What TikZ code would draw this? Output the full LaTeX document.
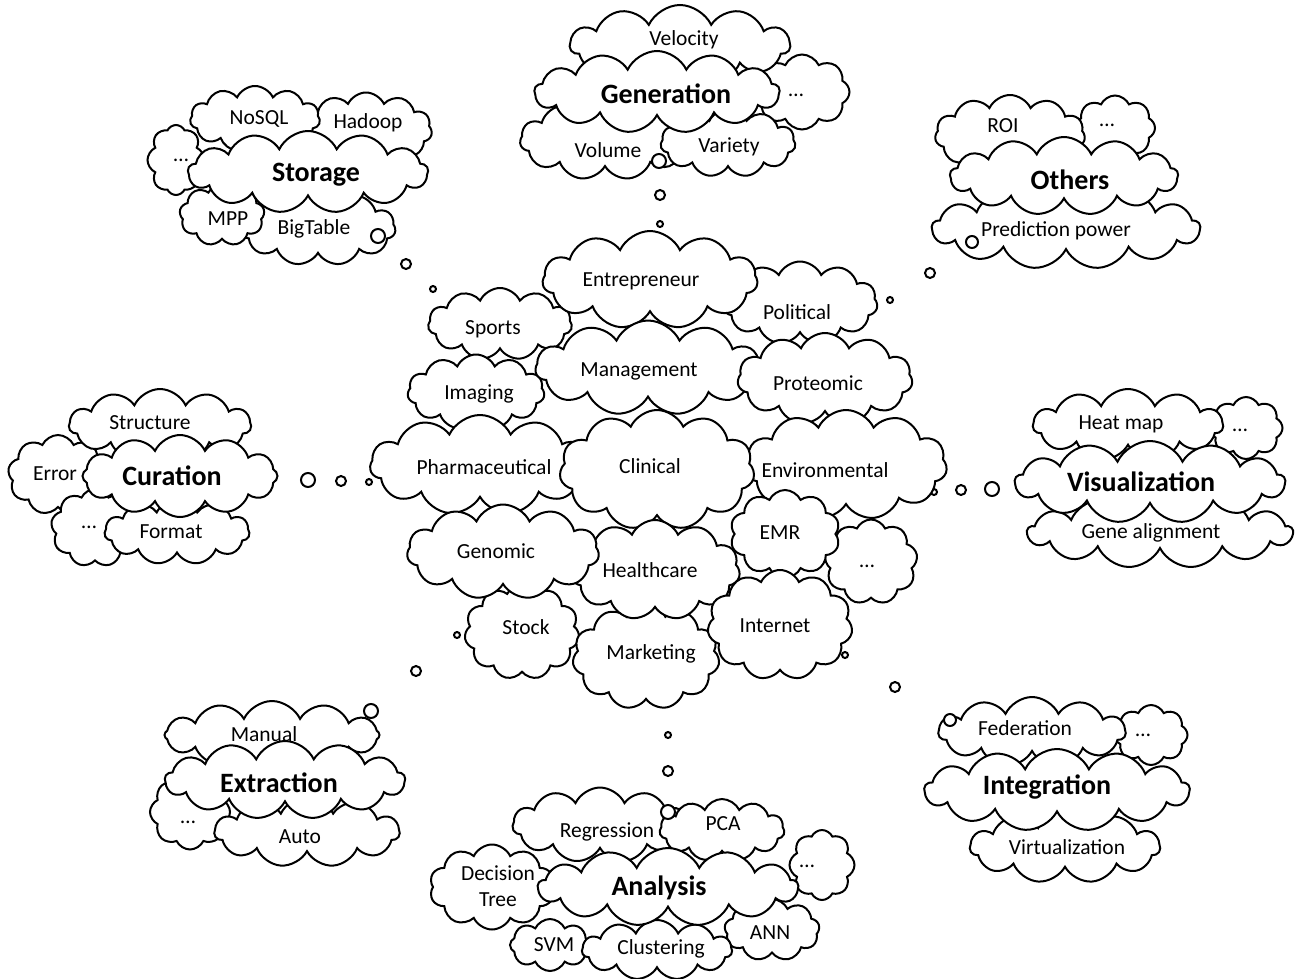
\documentclass[tikz,border=0pt]{standalone}
\usepackage{fontspec}
\setmainfont{Carlito}
\usetikzlibrary{shapes.symbols}
\tikzset{
 cl/.style={cloud, cloud puffs=11, cloud puff arc=130, cloud ignores aspect, draw=black, line width=2pt, fill=white, inner sep=0pt},
 lb/.style={font=\fontsize{21.5}{26}\selectfont, inner sep=0pt, align=center},
 bl/.style={font=\fontsize{28}{32}\selectfont\bfseries, inner sep=0pt},
 bub/.style={circle, draw=black, line width=2pt, fill=white, inner sep=0pt},
}
\newcommand\cld[9]{%
 \node[cl, #2, minimum width=#5pt, minimum height=#6pt] (#1) at (#3,#4) {};
 \node[lb] (#1t) at (#7,#8) {#9};}
\newcommand\bcld[9]{%
 \node[cl, #2, minimum width=#5pt, minimum height=#6pt] (#1) at (#3,#4) {};
 \node[bl] (#1t) at (#7,#8) {#9};}
\begin{document}
\begin{tikzpicture}[x=1pt,y=-1pt]
\useasboundingbox (0,0) rectangle (1295,978);
% Generation
\cld{gdots}{cloud puffs=8}{802}{92}{95}{75}{796}{95}{…}
\cld{vel}{}{680}{45}{220}{80}{684}{40}{Velocity}
\cld{vol}{}{605}{140}{170}{80}{608}{150}{Volume}
\cld{var}{}{728}{143}{135}{68}{729}{147}{Variety}
\bcld{gen}{cloud puffs=13}{657}{92}{245}{82}{666}{94}{Generation}
\node[bub, minimum size=14pt] (g1) at (659,161) {};
\node[bub, minimum size=10pt] (g2) at (660,195) {};
\node[bub, minimum size=6pt] (g3) at (660,224) {};
% Storage
\cld{sdots}{cloud puffs=8}{176}{160}{57}{70}{181}{160}{…}
\cld{had}{}{366}{130}{132}{75}{368}{123}{Hadoop}
\cld{nosql}{}{255}{119}{130}{66}{259}{119}{NoSQL}
\cld{big}{}{318}{228}{155}{75}{314}{229}{BigTable}
\cld{mpp}{cloud puffs=9}{222}{215}{85}{62}{228}{219}{MPP}
\bcld{sto}{cloud puffs=13}{308}{172}{240}{82}{316}{175}{Storage}
\node[bub, minimum size=14pt] (s1) at (378,236) {};
\node[bub, minimum size=10pt] (s2) at (406,264) {};
\node[bub, minimum size=6pt] (s3) at (433,289) {};
% Others
\cld{odots}{cloud puffs=8}{1115}{128}{80}{65}{1107}{125}{…}
\cld{roi}{}{1010}{135}{150}{80}{1003}{126}{ROI}
\cld{pred}{cloud puffs=13}{1066}{228}{268}{82}{1056}{231}{Prediction power}
\bcld{oth}{cloud puffs=13}{1064}{176}{228}{78}{1070}{180}{Others}
\node[bub, minimum size=12pt] (o1) at (972,242) {};
\node[bub, minimum size=10pt] (o2) at (930,273) {};
\node[bub, minimum size=6pt] (o3) at (890,300) {};
% Curation
\cld{err}{cloud puffs=9}{58}{475}{100}{80}{55}{474}{Error}
\cld{cdots}{cloud puffs=9}{95}{528}{88}{78}{89}{527}{…}
\cld{str}{}{160}{425}{182}{72}{150}{423}{Structure}
\cld{fmt}{}{177}{532}{145}{65}{171}{532}{Format}
\bcld{cur}{cloud puffs=12}{180}{476}{195}{82}{172}{476}{Curation}
\node[bub, minimum size=14pt] (c1) at (308,480) {};
\node[bub, minimum size=10pt] (c2) at (341,481) {};
\node[bub, minimum size=6pt] (c3) at (369,482) {};
% Visualization
\cld{vdots}{cloud puffs=8}{1246}{428}{73}{62}{1240}{430}{…}
\cld{heat}{}{1128}{425}{190}{72}{1121}{424}{Heat map}
\cld{gene}{cloud puffs=13}{1160}{532}{265}{72}{1151}{533}{Gene alignment}
\bcld{vis}{cloud puffs=13}{1150}{482}{270}{82}{1141}{482}{Visualization}
\node[bub, minimum size=14pt] (v1) at (992,489) {};
\node[bub, minimum size=10pt] (v2) at (961,490) {};
\node[bub, minimum size=6pt] (v3) at (934,492) {};
% Extraction
\cld{man}{cloud puffs=12}{272}{735}{215}{68}{264}{734}{Manual}
\cld{edots}{cloud puffs=8}{190}{812}{80}{75}{188}{822}{…}
\cld{auto}{}{307}{832}{185}{70}{300}{837}{Auto}
\bcld{ext}{cloud puffs=13}{285}{780}{240}{78}{279}{783}{Extraction}
\node[bub, minimum size=14pt] (e1) at (371,711) {};
\node[bub, minimum size=10pt] (e2) at (416,671) {};
\node[bub, minimum size=6pt] (e3) at (457,635) {};
% Integration
\cld{idots}{cloud puffs=8}{1151}{735}{73}{60}{1143}{735}{…}
\cld{fed}{}{1032}{732}{187}{70}{1025}{728}{Federation}
\cld{virt}{}{1065}{847}{190}{72}{1067}{847}{Virtualization}
\bcld{int}{cloud puffs=13}{1057}{790}{265}{82}{1047}{787}{Integration}
\node[bub, minimum size=12pt] (i1) at (950,720) {};
\node[bub, minimum size=10pt] (i2) at (895,687) {};
\node[bub, minimum size=6pt] (i3) at (845,655) {};
% Analysis
\cld{dt}{cloud puffs=10}{492}{887}{125}{85}{498}{886}{Decision\\Tree}
\cld{adots}{cloud puffs=8}{822}{865}{65}{70}{807}{866}{…}
\cld{reg}{}{600}{825}{175}{75}{607}{832}{Regression}
\cld{pca}{}{722}{830}{125}{62}{723}{824}{PCA}
\cld{ann}{cloud puffs=9}{772}{930}{95}{62}{770}{933}{ANN}
\cld{svm}{cloud puffs=8}{550}{945}{80}{52}{554}{945}{SVM}
\cld{clu}{}{657}{950}{150}{60}{661}{949}{Clustering}
\bcld{ana}{cloud puffs=13}{668}{887}{260}{78}{659}{888}{Analysis}
\node[bub, minimum size=14pt] (a1) at (668,812) {};
\node[bub, minimum size=10pt] (a2) at (668,771) {};
\node[bub, minimum size=6pt] (a3) at (668,735) {};
% Center
\cld{spo}{}{500}{324}{144}{72}{493}{329}{Sports}
\cld{img}{}{476}{392}{137}{75}{479}{394}{Imaging}
\cld{pol}{}{800}{303}{155}{83}{797}{312}{Political}
\cld{ent}{}{650}{280}{215}{98}{641}{281}{Entrepreneur}
\cld{mgt}{}{648}{368}{225}{95}{639}{371}{Management}
\cld{pro}{}{825}{379}{175}{92}{818}{383}{Proteomic}
\cld{pha}{}{480}{465}{220}{100}{484}{467}{Pharmaceutical}
\cld{env}{}{846}{465}{202}{110}{825}{470}{Environmental}
\cld{cli}{}{657}{470}{195}{120}{650}{466}{Clinical}
\cld{mdots}{cloud puffs=9}{871}{562}{93}{85}{867}{566}{…}
\cld{stk}{}{522}{632}{115}{95}{526}{627}{Stock}
\cld{mkt}{}{646}{657}{147}{105}{651}{654}{Marketing}
\cld{hc}{}{655}{570}{170}{100}{650}{570}{Healthcare}
\cld{gnm}{}{503}{552}{192}{95}{496}{551}{Genomic}
\cld{emr}{cloud puffs=10}{785}{534}{110}{88}{780}{533}{EMR}
\cld{inet}{}{780}{625}{145}{110}{775}{626}{Internet}
\end{tikzpicture}
\end{document}
